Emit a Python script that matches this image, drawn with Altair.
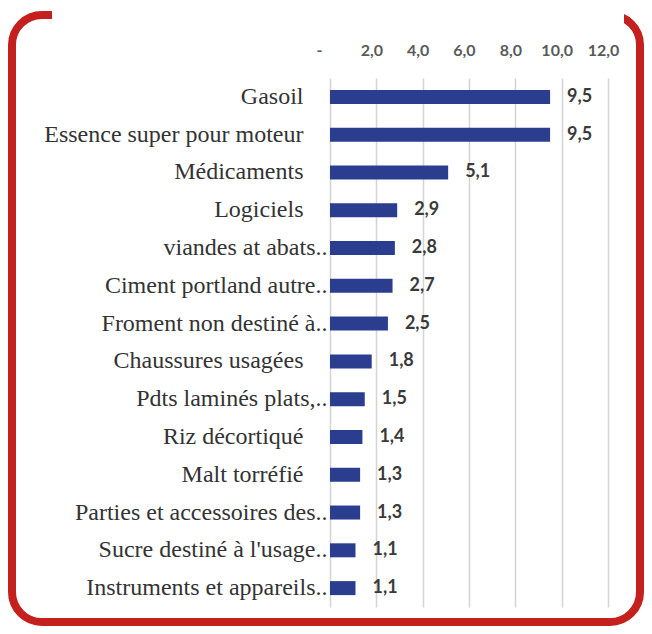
import altair as alt
import pandas as pd

categories = [
    "Gasoil",
    "Essence super pour moteur",
    "Médicaments",
    "Logiciels",
    "viandes at abats..",
    "Ciment portland autre..",
    "Froment non destiné à..",
    "Chaussures usagées",
    "Pdts laminés plats,..",
    "Riz décortiqué",
    "Malt torréfié",
    "Parties et accessoires des..",
    "Sucre destiné à l'usage..",
    "Instruments et appareils..",
]
values = [9.5, 9.5, 5.1, 2.9, 2.8, 2.7, 2.5, 1.8, 1.5, 1.4, 1.3, 1.3, 1.1, 1.1]
x_ticks = [0, 2, 4, 6, 8, 10, 12]

df = pd.DataFrame({"cat": categories, "val": values})

W, H = 278, 529

y_enc = alt.Y(
    "cat:N",
    sort=categories,
    scale=alt.Scale(paddingInner=0, paddingOuter=0),
    axis=alt.Axis(
        title=None,
        domain=False,
        ticks=False,
        grid=False,
        labelFont="Liberation Serif",
        labelFontSize=24,
        labelColor="#333333",
        labelLimit=400,
        labelPadding={"condition": {"test": "indexof(datum.label, '..') >= 0", "value": 3}, "value": 27},
    ),
)

x_enc = alt.X(
    "val:Q",
    scale=alt.Scale(domain=[0, 12], nice=False),
    axis=alt.Axis(
        orient="top",
        title=None,
        values=x_ticks,
        domain=False,
        ticks=False,
        grid=True,
        gridColor="#d4d4d4",
        gridWidth=1.5,
        labelOverlap=False,
        labelFlush=False,
        labelExpr="datum.value == 0 ? '-' : replace(format(datum.value, '.1f'), '.', ',')",
        labelFont="Lato",
        labelFontWeight="bold",
        labelFontSize=16,
        labelColor="#5a5a5a",
        labelPadding=20,
        labelOffset={"condition": {"test": "datum.value == 0", "value": -11}, "value": -5},
    ),
)

bars = alt.Chart(df).mark_bar(size=14, color="#2a3d8e").encode(x=x_enc, y=y_enc)

labels = (
    alt.Chart(df)
    .transform_calculate(lbl="replace(format(datum.val, '.1f'), '.', ',')")
    .mark_text(align="left", baseline="middle", dx=17, font="Lato", fontWeight="bold",
               fontSize=18, color="#3a3a3a")
    .encode(x="val:Q", y=alt.Y("cat:N", sort=categories), text="lbl:N")
)

frame_data = alt.Data(values=[{"k": 1}])
frame = alt.Chart(frame_data).mark_rect(
    cornerRadius=30, stroke="#c4201e", strokeWidth=8, fillOpacity=0, fill="white"
).encode(
    x=alt.value(-318), x2=alt.value(310), y=alt.value(-63), y2=alt.value(544)
)
gap = alt.Chart(frame_data).mark_rect(color="white").encode(
    x=alt.value(-278), x2=alt.value(294), y=alt.value(-75), y2=alt.value(-52)
)

chart = (
    alt.layer(bars, labels, frame, gap)
    .properties(
        width=W,
        height=H,
        padding={"left": 322, "top": 70, "right": 36, "bottom": 19},
        autosize=alt.AutoSizeParams(type="none"),
        background="white",
    )
    .configure_view(stroke=None)
)

chart.save("out.html", embed_options={"renderer": "svg", "actions": False})
